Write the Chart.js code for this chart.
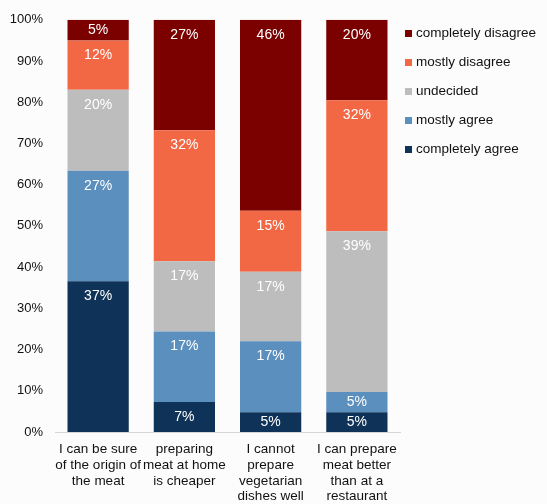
<!DOCTYPE html>
<html>
<head>
<meta charset="utf-8">
<script src="https://cdn.jsdelivr.net/npm/chart.js@4/dist/chart.umd.min.js"></script>
<style>
  html, body { margin: 0; padding: 0; background: #fcfcfc; }
  #wrap { width: 547px; height: 504px; position: relative; }
</style>
</head>
<body>
<div id="wrap"><canvas id="c" width="547" height="504"></canvas></div>
<script>
// Survey statements (x-axis categories, wrapped onto several lines)
const statements = [
  ["I can be sure", "of the origin of", "the meat"],
  ["preparing", "meat at home", "is cheaper"],
  ["I cannot", "prepare", "vegetarian", "dishes well"],
  ["I can prepare", "meat better", "than at a", "restaurant"]
];

// Share of respondents (%) per answer, one value per statement
const completelyAgree    = [36.6,  7.3,  4.8,  4.8];
const mostlyAgree        = [26.8, 17.1, 17.2,  4.9];
const undecided          = [19.6, 17.0, 16.9, 39.0];
const mostlyDisagree     = [12.0, 31.8, 14.8, 31.8];
const completelyDisagree = [ 5.0, 26.8, 46.3, 19.5];

// Y-axis tick values (percent)
const yTicks = [0, 10, 20, 30, 40, 50, 60, 70, 80, 90, 100];

const FONT = "'Liberation Sans', Arial, Helvetica, sans-serif";

const datasets = [
  { label: "completely agree",    data: completelyAgree,    backgroundColor: "#0f3358" },
  { label: "mostly agree",        data: mostlyAgree,        backgroundColor: "#5b8fbe" },
  { label: "undecided",           data: undecided,          backgroundColor: "#bdbdbd" },
  { label: "mostly disagree",     data: mostlyDisagree,     backgroundColor: "#f26744" },
  { label: "completely disagree", data: completelyDisagree, backgroundColor: "#7b0000" }
].map(d => Object.assign(d, { barPercentage: 0.71, categoryPercentage: 1.0, borderWidth: 0 }));

// White percentage labels near the top of every segment
const segmentLabels = {
  id: "segmentLabels",
  afterDatasetsDraw(chart) {
    const ctx = chart.ctx;
    ctx.save();
    ctx.fillStyle = "#ffffff";
    ctx.font = "14px " + FONT;
    ctx.textAlign = "center";
    ctx.textBaseline = "middle";
    chart.data.datasets.forEach((ds, di) => {
      const meta = chart.getDatasetMeta(di);
      meta.data.forEach((bar, i) => {
        const top = Math.min(bar.y, bar.base);
        const bottom = Math.max(bar.y, bar.base);
        const y = Math.min(top + 15, (top + bottom) / 2 + 0.5);
        ctx.fillText(Math.round(ds.data[i]) + "%", bar.x, y);
      });
    });
    ctx.restore();
  }
};

// Legend on the right, disagreement first
const sideLegend = {
  id: "sideLegend",
  afterDraw(chart) {
    const ctx = chart.ctx;
    ctx.save();
    ctx.font = "13.5px " + FONT;
    ctx.textBaseline = "middle";
    const items = chart.data.datasets.slice().reverse();
    const x0 = chart.chartArea.right + 5;
    items.forEach((ds, k) => {
      const y = 33.5 + k * 29;
      ctx.fillStyle = ds.backgroundColor;
      ctx.fillRect(x0, y - 3.5, 7, 7);
      ctx.fillStyle = "#111111";
      ctx.fillText(ds.label, x0 + 11, y);
    });
    ctx.restore();
  }
};

new Chart(document.getElementById("c"), {
  type: "bar",
  data: { labels: statements, datasets },
  options: {
    responsive: false,
    animation: false,
    layout: { padding: { left: 10, right: 147, top: 8.5, bottom: 2 } },
    plugins: { legend: { display: false }, tooltip: { enabled: false } },
    scales: {
      x: {
        stacked: true,
        grid: { display: false, drawTicks: false },
        border: { display: true, color: "#d6d6d6", width: 1 },
        ticks: {
          color: "#111111",
          font: { family: FONT, size: 13.5, lineHeight: 1.15 },
          padding: 10,
          maxRotation: 0, minRotation: 0, autoSkip: false
        },
        afterFit(scale) {
          scale.height = 70;
          scale.paddingLeft = 0;
          scale.paddingRight = 0;
        }
      },
      y: {
        stacked: true,
        min: 0, max: 100,
        afterBuildTicks(scale) { scale.ticks = yTicks.map(v => ({ value: v })); },
        grid: { display: false, drawTicks: false },
        border: { display: false },
        ticks: {
          color: "#111111",
          font: { family: FONT, size: 13 },
          padding: 12,
          callback: v => v + "%"
        },
        afterFit(scale) { scale.width = 45; }
      }
    }
  },
  plugins: [segmentLabels, sideLegend]
});
</script>
</body>
</html>
